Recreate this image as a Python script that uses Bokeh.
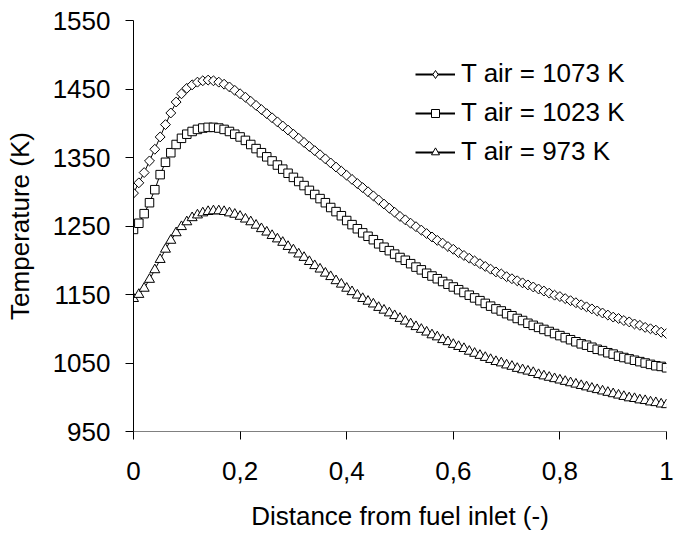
import math
from bokeh.plotting import figure
from bokeh.models import (ColumnDataSource, Range1d, FixedTicker, CustomJSTickFormatter,
                          Legend, LegendItem)
from bokeh.embed import file_html
from bokeh.resources import INLINE

# ---------------- data ----------------
x_vals = [i / 100 for i in range(101)]

t_1073 = [1298, 1313, 1328, 1345, 1362, 1380, 1398, 1415, 1431, 1443,
          1451, 1456, 1460, 1462, 1463, 1462, 1460, 1457, 1453, 1448,
          1443, 1438, 1432, 1426, 1420, 1414, 1408, 1402, 1396, 1390,
          1384, 1378, 1372, 1366, 1360, 1354, 1348, 1342, 1336, 1330,
          1324, 1318, 1312, 1306, 1300, 1294, 1288, 1282, 1276, 1270,
          1264, 1259, 1254, 1249, 1244, 1239, 1234, 1229, 1225, 1220,
          1216, 1211, 1207, 1203, 1199, 1195, 1191, 1187, 1183, 1180,
          1176, 1173, 1170, 1167, 1164, 1161, 1158, 1155, 1152, 1149,
          1147, 1144, 1141, 1138, 1135, 1132, 1129, 1126, 1123, 1120,
          1117, 1115, 1112, 1110, 1107, 1105, 1102, 1100, 1098, 1095,
          1093]

t_1023 = [1245, 1254, 1268, 1284, 1303, 1325, 1343, 1357, 1369, 1378,
          1384, 1388, 1391, 1393, 1394, 1394, 1393, 1391, 1388, 1384,
          1380, 1375, 1369, 1363, 1357, 1351, 1345, 1339, 1333, 1327,
          1321, 1315, 1309, 1302, 1296, 1290, 1284, 1277, 1271, 1265,
          1258, 1252, 1246, 1240, 1235, 1230, 1224, 1219, 1214, 1209,
          1204, 1200, 1195, 1190, 1186, 1181, 1177, 1173, 1169, 1165,
          1161, 1157, 1153, 1149, 1145, 1141, 1137, 1133, 1129, 1126,
          1122, 1119, 1115, 1112, 1108, 1105, 1102, 1099, 1096, 1093,
          1090, 1087, 1084, 1081, 1078, 1076, 1073, 1070, 1068, 1065,
          1063, 1060, 1058, 1056, 1054, 1052, 1050, 1048, 1046, 1045,
          1043]

t_973 = [1144, 1150, 1159, 1172, 1186, 1201, 1216, 1229, 1240, 1249,
         1256, 1262, 1266, 1269, 1271, 1272, 1272, 1271, 1269, 1267,
         1264, 1260, 1256, 1251, 1246, 1241, 1236, 1231, 1226, 1220,
         1215, 1209, 1204, 1198, 1192, 1187, 1181, 1176, 1170, 1165,
         1159, 1154, 1149, 1144, 1140, 1136, 1131, 1127, 1123, 1119,
         1115, 1111, 1107, 1103, 1099, 1095, 1091, 1088, 1084, 1081,
         1077, 1074, 1071, 1067, 1064, 1061, 1058, 1055, 1052, 1050,
         1047, 1045, 1042, 1040, 1038, 1036, 1033, 1031, 1029, 1027,
         1025, 1023, 1021, 1019, 1017, 1015, 1013, 1011, 1009, 1007,
         1005, 1003, 1001, 999, 998, 996, 995, 993, 992, 990,
         989]

series_labels = ["T air = 1073 K", "T air = 1023 K", "T air = 973 K"]
x_title = "Distance from fuel inlet (-)"
y_title = "Temperature (K)"
x_ticks = [0, 0.2, 0.4, 0.6, 0.8, 1.0]
y_ticks = [950, 1050, 1150, 1250, 1350, 1450, 1550]

FONT = "Liberation Sans"
FS = "26px"

W, H = 674, 533
ML, MR, MT, MB = 133, 8, 20, 101

p = figure(width=W, height=H, output_backend="svg", toolbar_location=None,
           x_range=Range1d(0, 1), y_range=Range1d(950, 1550),
           min_border_left=ML, min_border_right=MR, min_border_top=MT,
           min_border_bottom=MB)
p.outline_line_color = None
p.xgrid.visible = False
p.ygrid.visible = False
p.background_fill_color = "white"

src1 = ColumnDataSource(dict(x=x_vals, y=t_1073))
src2 = ColumnDataSource(dict(x=x_vals, y=t_1023))
src3 = ColumnDataSource(dict(x=x_vals, y=t_973))

for s in (src1, src2, src3):
    p.line("x", "y", source=s, line_color="black", line_width=1)

p.scatter("x", "y", source=src1, marker="square", size=7, angle=math.pi / 4,
          fill_color="white", line_color="black", line_width=1)
p.scatter("x", "y", source=src2, marker="square", size=8.5,
          fill_color="white", line_color="black", line_width=1)
p.scatter("x", "y", source=src3, marker="triangle", size=10,
          fill_color="white", line_color="black", line_width=1)

# legend-only glyphs (placed outside the visible range)
def off():
    return ColumnDataSource(dict(x=[-100], y=[0]))

leg_items = []
for label, marker, size in zip(series_labels, ["diamond", "square", "triangle"], [9, 7, 8]):
    ln = p.line("x", "y", source=off(), line_color="black", line_width=2)
    mk = p.scatter("x", "y", source=off(), marker=marker, size=size,
                   fill_color="white", line_color="black", line_width=1)
    leg_items.append(LegendItem(label=label, renderers=[ln, mk]))

legend = Legend(items=leg_items, location=(282, 264), orientation="vertical",
                glyph_width=40, glyph_height=20, label_standoff=6, spacing=8,
                padding=0, margin=0, border_line_color=None,
                background_fill_alpha=0,
                label_text_font=FONT, label_text_font_size=FS, label_text_color="black")
p.add_layout(legend, "center")

# axes
xa = p.xaxis[0]
xa.ticker = FixedTicker(ticks=x_ticks)
xa.formatter = CustomJSTickFormatter(
    code="return (Math.round(tick*10)/10).toString().replace('.', ',');")
xa.axis_label = x_title
xa.axis_line_color = "#808080"
xa.major_tick_line_color = "black"
xa.major_tick_in = 0
xa.major_tick_out = 8
xa.minor_tick_line_color = None
xa.major_label_standoff = 22
xa.axis_label_standoff = 18

ya = p.yaxis[0]
ya.ticker = FixedTicker(ticks=y_ticks)
ya.axis_label = y_title
ya.axis_line_color = "black"
ya.major_tick_line_color = "black"
ya.major_tick_in = 0
ya.major_tick_out = 8
ya.minor_tick_line_color = None
ya.major_label_standoff = 15
ya.axis_label_standoff = 15

for ax in (xa, ya):
    ax.major_label_text_font = FONT
    ax.major_label_text_font_size = FS
    ax.major_label_text_color = "black"
    ax.axis_label_text_font = FONT
    ax.axis_label_text_font_size = FS
    ax.axis_label_text_font_style = "normal"
    ax.axis_label_text_color = "black"

open("out.html", "w").write(file_html(p, INLINE))
